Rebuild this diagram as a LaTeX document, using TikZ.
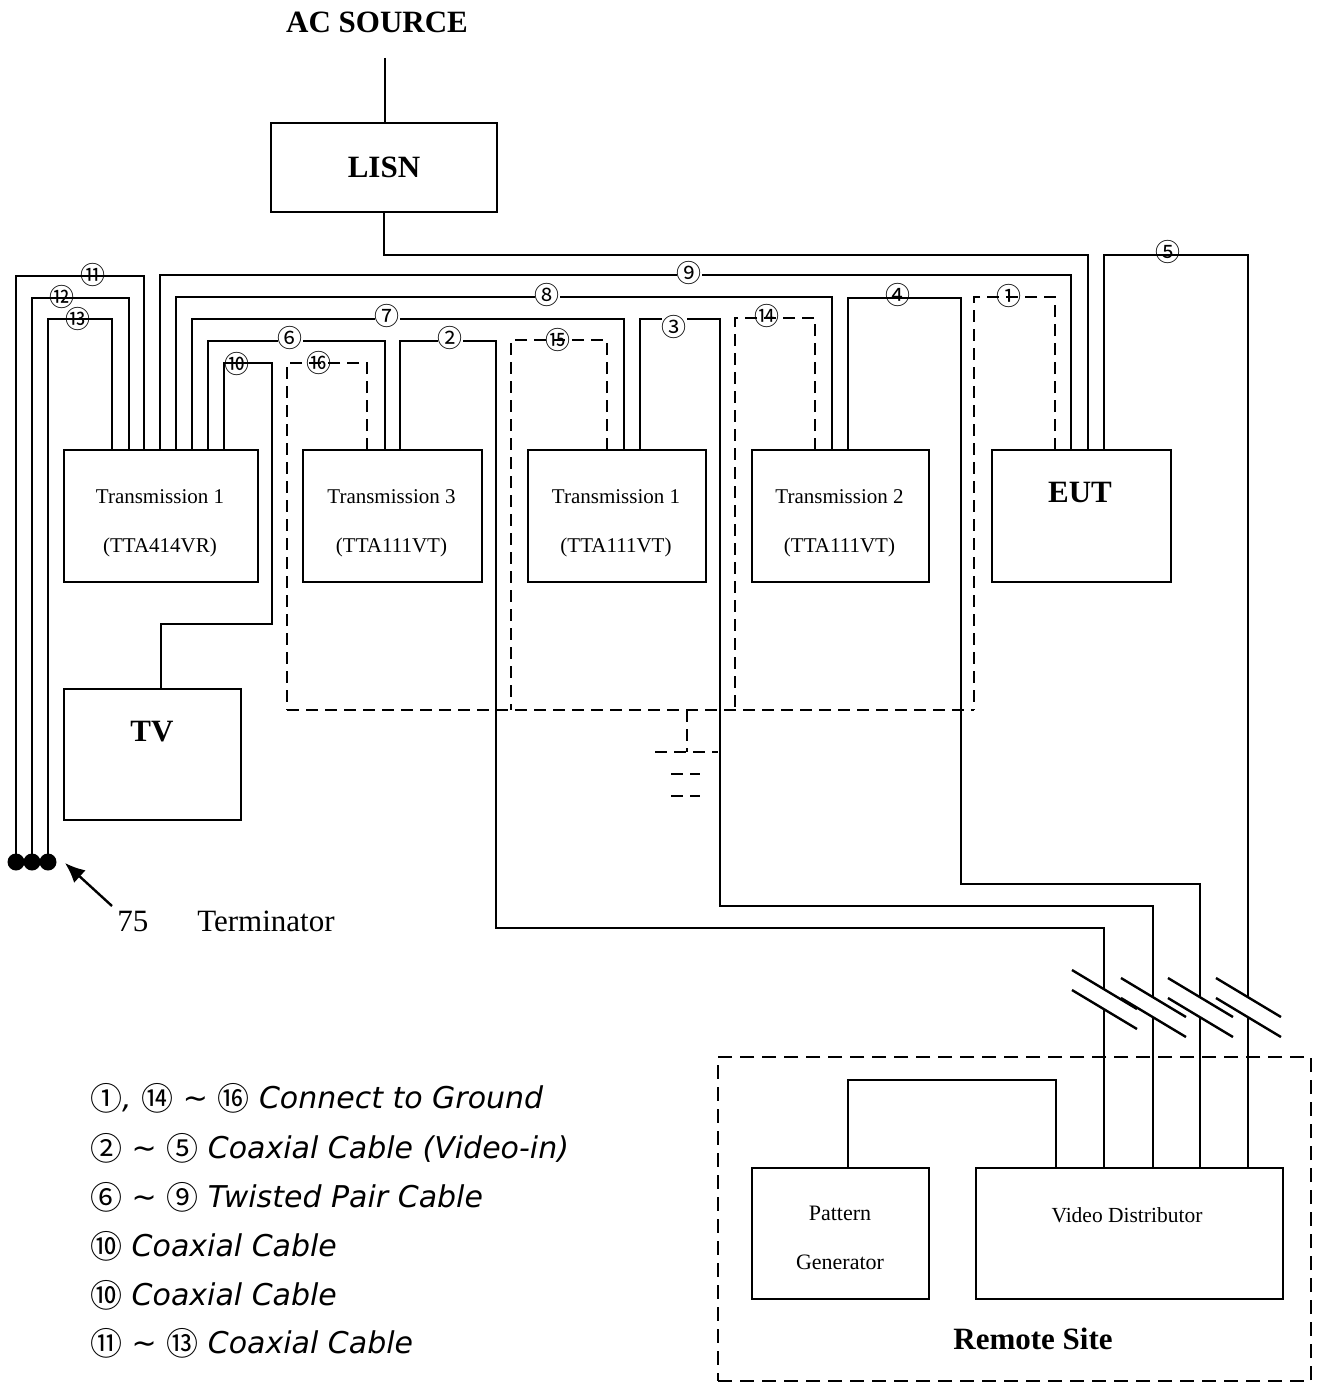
\documentclass[tikz,border=0pt]{standalone}
\usepackage{fontspec}
\setmainfont{Liberation Serif}
\newfontfamily\dejavu{DejaVu Sans}
\newfontfamily\cjk{Noto Sans CJK KR}
\usetikzlibrary{arrows.meta}
\newcommand{\cn}[1]{\raisebox{-2.5pt}{\cjk\upshape\fontsize{32}{32}\selectfont #1}}
\tikzset{
  unit/.style={shape=rectangle,draw=black,line width=2.4pt,inner sep=0pt,outer sep=0pt},
  wire/.style={line width=2.4pt},
  gnd/.style={line width=2.4pt,dash pattern=on 12pt off 7pt},
  txt/.style={inner sep=0pt,font=\fontsize{21}{21}\selectfont},
  big/.style={inner sep=0pt,font=\bfseries\fontsize{31}{31}\selectfont},
  num/.style={inner sep=0pt,font=\cjk\fontsize{25}{25}\selectfont},
  numw/.style={num,fill=white},
  legend/.style={anchor=base west,inner sep=0pt,font=\dejavu\itshape\fontsize{30}{30}\selectfont},
  dot/.style={shape=circle,fill=black,inner sep=0pt,outer sep=0pt,minimum size=17pt}
}
\begin{document}
\begin{tikzpicture}[x=1pt,y=-1pt]
\useasboundingbox (0,0) rectangle (1318,1383);
\node[big] (ac) at (377,22) {AC SOURCE};
\node[unit,big,minimum width=226pt,minimum height=89pt] (lisn) at (384,167.5) {LISN};
\foreach \nm/\cx/\w/\n/\m in {tta/161/194/1/TTA414VR, trc/392.5/179/3/TTA111VT, tra/617/178/1/TTA111VT, trb/840.5/177/2/TTA111VT} {
  \node[unit,minimum width=\w*1pt,minimum height=132pt] (\nm) at (\cx,516) {};
  \node[txt] at (\cx-1,497) {Transmission \n};
  \node[txt] at (\cx-1,547) {(\m)};
}
\node[unit,minimum width=179pt,minimum height=132pt] (eut) at (1081.5,516) {};
\node[big] at (1080,492) {EUT};
\node[unit,minimum width=177pt,minimum height=131pt] (tv) at (152.5,754.5) {};
\node[big] at (152,732) {TV};
\node[unit,minimum width=177pt,minimum height=131pt] (pg) at (840.5,1233.5) {};
\node[txt,font=\fontsize{22}{22}\selectfont] at (840,1213) {Pattern};
\node[txt,font=\fontsize{22}{22}\selectfont] at (840,1262) {Generator};
\node[unit,minimum width=307pt,minimum height=131pt] (vd) at (1129.5,1233.5) {};
\node[txt,font=\fontsize{21.5}{21.5}\selectfont] at (1127,1215) {Video Distributor};
\node[draw=black,line width=2.6pt,dash pattern=on 14pt off 8pt,minimum width=593pt,minimum height=324pt,inner sep=0pt] (remote) at (1014.5,1219) {};
\node[big] at (1033,1339) {Remote Site};
\node[dot] (d11) at (16,862) {};
\node[dot] (d12) at (32,862) {};
\node[dot] (d13) at (48,862) {};
\node[inner sep=0pt,font=\fontsize{31}{31}\selectfont] (term) at (226,921) {75\hspace{49pt}Terminator};
\coordinate (tail) at (112,906);
\coordinate (tip) at (65,863);
\draw[wire,-{Latex[length=20pt,width=17pt]}] (tail) -- (tip);
\coordinate (acl) at (385,58);
\draw[wire] (acl) -- (acl |- lisn.north);
\draw[wire] (lisn.south) |- (1088,255) -- ([xshift=96pt]eut.north west);
\foreach \cx/\cy/\k in {1104/989/2, 1153/997/3, 1200/997/4, 1248/997/5} {
  \coordinate (up\k) at (\cx,\cy);
  \coordinate (lo\k) at (\cx,\cy+20);
  \draw[wire] (\cx-32,\cy-19) -- (\cx+33,\cy+20);
  \draw[wire] (\cx-32,\cy+1) -- (\cx+33,\cy+40);
  \draw[wire] (lo\k) -- (lo\k |- vd.north);
}
\draw[wire] ([xshift=80pt]tta.north west) |- (16,276) -- (d11);
\draw[wire] ([xshift=65pt]tta.north west) |- (32,298) -- (d12);
\draw[wire] ([xshift=48pt]tta.north west) |- (48,319) -- (d13);
\draw[wire] ([xshift=96pt]tta.north west) |- (1071,275) -- ([xshift=79pt]eut.north west);
\draw[wire] ([xshift=112pt]tta.north west) |- (832,297) -- ([xshift=80pt]trb.north west);
\draw[wire] ([xshift=128pt]tta.north west) |- (624,319) -- ([xshift=96pt]tra.north west);
\draw[wire] ([xshift=144pt]tta.north west) |- (385,341) -- ([xshift=82pt]trc.north west);
\draw[wire] ([xshift=160pt]tta.north west) |- (272,363) |- (161,624) -- ([xshift=97pt]tv.north west);
\draw[wire] ([xshift=112pt]eut.north west) |- (1248,255) -- (up5);
\draw[wire] ([xshift=97pt]trc.north west) |- (496,341) |- (1104,928) -- (up2);
\draw[wire] ([xshift=112pt]tra.north west) |- (720,319) |- (1153,906) -- (up3);
\draw[wire] ([xshift=96pt]trb.north west) |- (961,298) |- (1200,884) -- (up4);
\draw[wire] ([xshift=96pt]pg.north west) |- (1056,1080) -- ([xshift=80pt]vd.north west);
\coordinate (gl) at (287,710);
\coordinate (gr) at (974,710);
\coordinate (earth) at (687,752);
\draw[gnd] ([xshift=64pt]trc.north west) |- (287,363) -- (gl);
\draw[gnd] ([xshift=79pt]tra.north west) |- (511,340) -- (511,710);
\draw[gnd] ([xshift=63pt]trb.north west) |- (735,318) -- (735,710);
\draw[gnd] ([xshift=63pt]eut.north west) |- (974,297) -- (gr);
\draw[gnd] (gl) -- (gr);
\draw[gnd] (earth |- gl) -- (earth);
\draw[gnd] ([xshift=-32pt]earth) -- ([xshift=31pt]earth);
\draw[gnd] ([shift={(-16,22)}]earth) -- ([shift={(13,22)}]earth);
\draw[gnd] ([shift={(-16,44)}]earth) -- ([shift={(13,44)}]earth);
\node[num] at (93,275) {⑪};
\node[num] at (62,297) {⑫};
\node[num] at (78,319) {⑬};
\node[numw] at (689,273) {⑨};
\node[numw] at (547,295) {⑧};
\node[numw] at (387,316) {⑦};
\node[numw] at (290,338) {⑥};
\node[num] at (237,364) {⑩};
\node[num] at (319,363) {⑯};
\node[numw] at (450,338) {②};
\node[num] at (558,340) {⑮};
\node[numw] at (674,327) {③};
\node[num] at (767,316) {⑭};
\node[num] at (898,295) {④};
\node[num] at (1009,296) {①};
\node[num] at (1168,252) {⑤};
\node[legend] at (90,1108) {\cn{①}, \cn{⑭} \textasciitilde{} \cn{⑯} Connect to Ground};
\node[legend] at (90,1158) {\cn{②} \textasciitilde{} \cn{⑤} Coaxial Cable (Video-in)};
\node[legend] at (90,1207) {\cn{⑥} \textasciitilde{} \cn{⑨} Twisted Pair Cable};
\node[legend] at (90,1256) {\cn{⑩} Coaxial Cable};
\node[legend] at (90,1305) {\cn{⑩} Coaxial Cable};
\node[legend] at (90,1353) {\cn{⑪} \textasciitilde{} \cn{⑬} Coaxial Cable};
\end{tikzpicture}
\end{document}
